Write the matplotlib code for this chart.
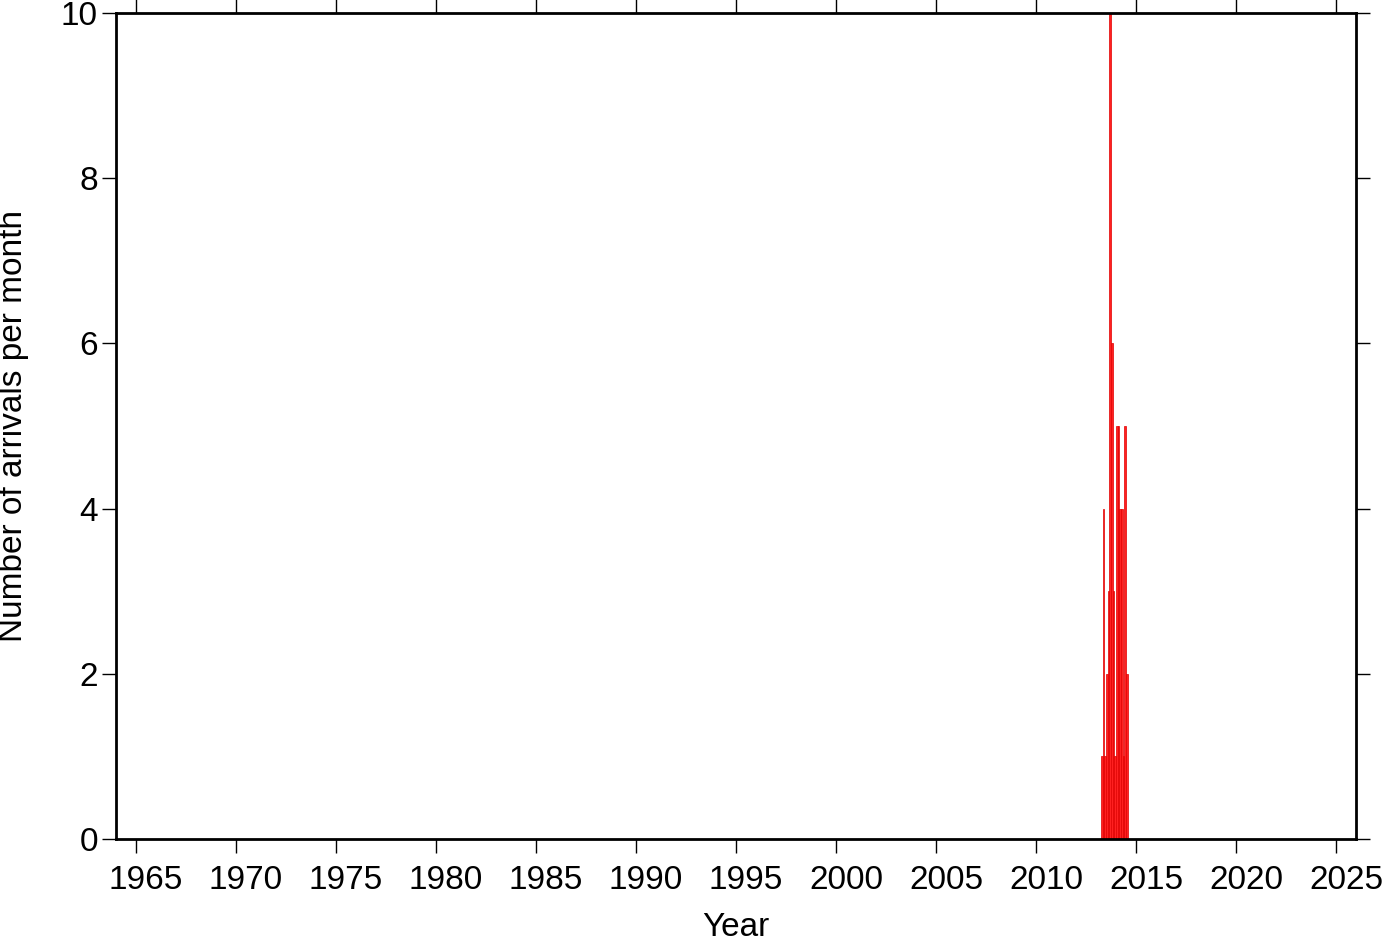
import matplotlib
matplotlib.use("Agg")
import matplotlib.pyplot as plt
import matplotlib.transforms as mtransforms
import numpy as np

plt.rcParams['font.family'] = ['Liberation Sans', 'DejaVu Sans']

# Monthly arrival counts (year, month, count)
years = [2013, 2013, 2013, 2013, 2013, 2013, 2013, 2013, 2013,
         2014, 2014, 2014, 2014, 2014, 2014, 2014]
months = [4, 5, 6, 7, 8, 9, 10, 11, 12,
          1, 2, 3, 4, 5, 6, 7]
counts = [1, 4, 1, 2, 3, 10, 6, 3, 1,
          5, 5, 4, 4, 1, 5, 2]

xticks = list(range(1965, 2026, 5))
yticks = [0, 2, 4, 6, 8, 10]

fig = plt.figure(figsize=(13.82, 9.42), dpi=100)
ax = fig.add_axes([116/1382, 1 - 839/942, (1356-116)/1382, (839-13)/942])

x = np.array(years) + (np.array(months) - 1) / 12.0
ax.bar(x, counts, width=1/12.0, align='edge', color='#ff2020',
       edgecolor='#e00000', linewidth=0.5)

ax.set_xlim(1964, 2026)
ax.set_ylim(0, 10)
ax.set_xticks(xticks)
ax.set_yticks(yticks)
ax.tick_params(axis='both', which='major', direction='out', length=10, width=1,
               labelsize=24, top=True, right=True, color='black')
ax.tick_params(axis='x', pad=9)
ax.tick_params(axis='y', pad=3)
for s in ax.spines.values():
    s.set_linewidth(2)

offset = mtransforms.ScaledTranslation(10/100, 0, fig.dpi_scale_trans)
for lbl in ax.get_xticklabels():
    lbl.set_transform(lbl.get_transform() + offset)

ax.set_xlabel('Year', fontsize=24, labelpad=11)
ax.set_ylabel('Number of arrivals per month', fontsize=24, labelpad=23)

fig.savefig('out.png', dpi=100)
